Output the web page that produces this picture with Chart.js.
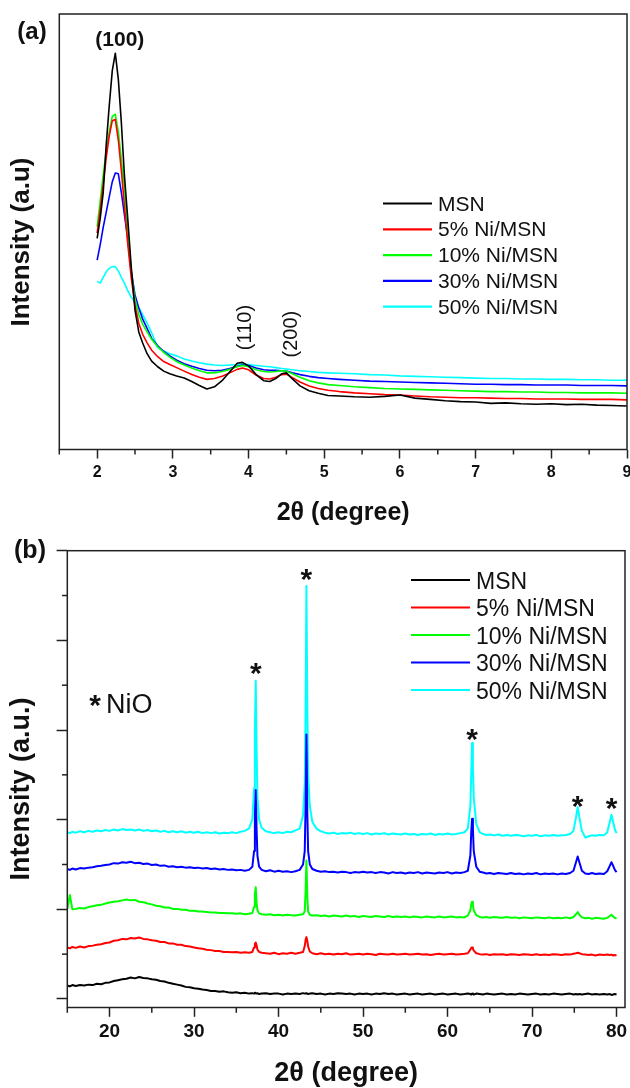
<!DOCTYPE html>
<html>
<head>
<meta charset="utf-8">
<title>XRD patterns of MSN and Ni/MSN</title>
<script src="https://cdn.jsdelivr.net/npm/chart.js@4.4.1/dist/chart.umd.min.js"></script>
<style>
  html, body { margin: 0; padding: 0; background: #ffffff; }
  #wrap { position: relative; width: 630px; height: 1088px; overflow: hidden; }
  canvas { position: absolute; left: 0; }
  #lowChart { top: 0; }
  #wideChart { top: 530px; }
</style>
</head>
<body>
<div id="wrap">
  <canvas id="lowChart" width="630" height="530" style="width:630px;height:530px"></canvas>
  <canvas id="wideChart" width="630" height="558" style="width:630px;height:558px"></canvas>
</div>
<script>
// ---------- samples ----------
const seriesNames = ['MSN', '5% Ni/MSN', '10% Ni/MSN', '30% Ni/MSN', '50% Ni/MSN'];

// ---------- (a) low-angle patterns: 2θ in degrees, intensity in arbitrary units ----------
const lowAngle = [
  2.00, 2.04, 2.08, 2.12, 2.16, 2.20, 2.24, 2.28, 2.32, 2.36,
  2.40, 2.45, 2.50, 2.55, 2.60, 2.66, 2.72, 2.80, 2.88, 2.96,
  3.05, 3.15, 3.25, 3.35, 3.45, 3.55, 3.65, 3.75, 3.85, 3.92,
  4.00, 4.10, 4.20, 4.28, 4.36, 4.44, 4.50, 4.58, 4.68, 4.80,
  4.92, 5.05, 5.20, 5.40, 5.60, 5.80, 6.00, 6.20, 6.40, 6.60,
  6.80, 7.00, 7.20, 7.40, 7.60, 7.80, 8.00, 8.20, 8.40, 8.60,
  8.80, 9.00
];
const msnLow = [
  48.5, 53, 59, 70, 79, 87, 91, 85, 75, 63,
  54, 42, 32, 27, 24.5, 22, 20.3, 19.0, 18.0, 17.4,
  16.9, 16.4, 15.6, 14.7, 13.9, 14.4, 15.8, 17.8, 19.8, 20.0,
  19.2, 17.2, 15.8, 15.6, 16.3, 17.4, 17.6, 16.2, 14.6, 13.5,
  12.9, 12.4, 12.3, 12.1, 12.0, 12.2, 12.5, 11.8, 11.5, 11.2,
  11.0, 10.9, 10.6, 10.7, 10.5, 10.4, 10.5, 10.3, 10.4, 10.2,
  10.1, 10.0
];
const ni5Low = [
  49.7, 55, 61, 67, 72, 75.5, 75.8, 71, 64, 56,
  48, 39.5, 33, 29, 26.5, 24.5, 22.8, 21.3, 20.2, 19.5,
  18.8, 18.0, 17.2, 16.6, 16.1, 16.3, 16.8, 17.6, 18.4, 18.7,
  18.3, 17.1, 16.3, 16.2, 16.6, 17.2, 17.3, 16.5, 15.5, 14.6,
  14.0, 13.6, 13.3, 13.0, 12.8, 12.6, 12.5, 12.3, 12.1, 12.0,
  11.9, 11.9, 11.8, 11.7, 11.7, 11.6, 11.6, 11.6, 11.5, 11.5,
  11.5, 11.4
];
const ni10Low = [
  51.2, 57, 63, 68.5, 73, 76.5, 77.0, 73, 66.5, 60,
  51, 41, 34.5, 31, 28.8, 27, 25.3, 23.6, 22.3, 21.2,
  20.2, 19.4, 18.7, 18.1, 17.6, 17.6, 17.9, 18.4, 19.0, 19.3,
  19.0, 18.3, 17.9, 17.8, 17.9, 18.1, 18.0, 17.4, 16.6, 15.8,
  15.3, 14.9, 14.7, 14.4, 14.2, 14.0, 13.9, 13.8, 13.7, 13.6,
  13.5, 13.4, 13.3, 13.3, 13.2, 13.2, 13.1, 13.1, 13.0, 13.0,
  13.0, 12.9
];
const ni30Low = [
  43.5, 47, 51, 54.5, 58, 61.5, 63.5, 63.3, 59, 54,
  49, 41, 35.5, 32.5, 30, 27.8, 25.5, 23.8, 22.5, 21.5,
  20.5, 19.7, 19.1, 18.6, 18.2, 18.1, 18.2, 18.6, 19.1, 19.4,
  19.3, 18.7, 18.3, 18.2, 18.2, 18.1, 18.0, 17.6, 17.2, 16.8,
  16.5, 16.3, 16.1, 15.9, 15.7, 15.6, 15.5, 15.4, 15.3, 15.2,
  15.1, 15.0, 15.0, 14.9, 14.9, 14.8, 14.8, 14.8, 14.7, 14.7,
  14.7, 14.6
];
const ni50Low = [
  38.6, 38.2, 39.5, 40.8, 41.6, 42.0, 42.0, 41.0, 39.5, 38.2,
  36.6, 35.0, 33.8, 32.6, 31.0, 29.0, 26.8, 23.4, 22.6, 22.0,
  21.5, 20.8, 20.3, 19.9, 19.6, 19.4, 19.3, 19.4, 19.5, 19.6,
  19.5, 19.3, 19.1, 19.0, 18.8, 18.6, 18.5, 18.3, 18.1, 17.9,
  17.7, 17.6, 17.5, 17.4, 17.2, 17.1, 16.9, 16.8, 16.7, 16.6,
  16.5, 16.4, 16.3, 16.3, 16.2, 16.2, 16.1, 16.1, 16.0, 16.0,
  15.9, 15.9
];
const lowTickLabels = ['2', '3', '4', '5', '6', '7', '8', '9'];
// Miller indices of the hexagonal mesophase reflections: [label, 2θ, height]
const lowPeakLabels = [['(100)', 2.30, 94.0], ['(110)', 3.96, 28.0], ['(200)', 4.57, 26.5]];

// ---------- (b) wide-angle patterns (curves offset vertically) ----------
const wideAngle = [
  15, 15.3, 15.6, 16, 16.5, 17, 17.5, 18, 18.5, 19,
  19.5, 20, 20.5, 21, 21.5, 22, 22.5, 23, 23.5, 24,
  24.5, 25, 25.5, 26, 26.5, 27, 27.5, 28, 28.5, 29,
  29.5, 30, 30.5, 31, 31.5, 32, 32.5, 33, 33.5, 34,
  34.5, 35, 35.5, 36, 36.5, 36.9, 37.1, 37.2, 37.3, 37.4,
  37.5, 37.7, 38, 38.5, 39, 39.5, 40, 40.5, 41, 41.5,
  42, 42.5, 42.9, 43.1, 43.2, 43.3, 43.4, 43.5, 43.7, 44,
  44.5, 45, 45.5, 46, 46.5, 47, 47.5, 48, 48.5, 49,
  49.5, 50, 50.5, 51, 51.5, 52, 52.5, 53, 53.5, 54,
  54.5, 55, 55.5, 56, 56.5, 57, 57.5, 58, 58.5, 59,
  59.5, 60, 60.5, 61, 61.5, 62, 62.4, 62.7, 62.8, 62.9,
  63, 63.1, 63.4, 63.8, 64.2, 64.6, 65, 65.5, 66, 66.5,
  67, 67.5, 68, 68.5, 69, 69.5, 70, 70.5, 71, 71.5,
  72, 72.5, 73, 73.5, 74, 74.5, 74.9, 75.2, 75.4, 75.6,
  75.9, 76.3, 76.7, 77.1, 77.5, 78, 78.5, 78.9, 79.2, 79.4,
  79.6, 79.8, 80
];
const msnWide = [
  0.30, 0.28, 0.31, 0.29, 0.31, 0.30, 0.32, 0.31, 0.34, 0.33,
  0.36, 0.37, 0.40, 0.42, 0.44, 0.45, 0.48, 0.46, 0.49, 0.47,
  0.46, 0.44, 0.43, 0.40, 0.39, 0.36, 0.34, 0.32, 0.30, 0.27,
  0.26, 0.24, 0.23, 0.21, 0.20, 0.18, 0.18, 0.16, 0.17, 0.15,
  0.14, 0.15, 0.13, 0.14, 0.12, 0.13, 0.12, 0.14, 0.13, 0.12,
  0.13, 0.11, 0.12, 0.13, 0.11, 0.12, 0.12, 0.10, 0.12, 0.11,
  0.12, 0.11, 0.13, 0.12, 0.12, 0.13, 0.12, 0.11, 0.12, 0.13,
  0.11, 0.12, 0.10, 0.12, 0.11, 0.13, 0.12, 0.11, 0.12, 0.10,
  0.12, 0.11, 0.12, 0.10, 0.12, 0.11, 0.13, 0.11, 0.12, 0.10,
  0.11, 0.12, 0.10, 0.11, 0.12, 0.10, 0.11, 0.12, 0.10, 0.11,
  0.12, 0.10, 0.11, 0.12, 0.10, 0.11, 0.12, 0.11, 0.10, 0.12,
  0.11, 0.10, 0.12, 0.11, 0.10, 0.12, 0.11, 0.10, 0.11, 0.12,
  0.10, 0.11, 0.10, 0.12, 0.11, 0.10, 0.11, 0.12, 0.10, 0.11,
  0.10, 0.12, 0.11, 0.10, 0.11, 0.12, 0.10, 0.11, 0.10, 0.11,
  0.10, 0.11, 0.12, 0.10, 0.11, 0.10, 0.11, 0.10, 0.11, 0.09,
  0.10, 0.11, 0.10
];
const ni5Wide = [
  1.15, 1.13, 1.16, 1.14, 1.17, 1.15, 1.18, 1.19, 1.21, 1.22,
  1.25, 1.26, 1.30, 1.31, 1.34, 1.33, 1.36, 1.35, 1.37, 1.34,
  1.33, 1.31, 1.30, 1.27, 1.27, 1.24, 1.24, 1.21, 1.21, 1.18,
  1.17, 1.15, 1.13, 1.12, 1.10, 1.09, 1.07, 1.07, 1.05, 1.05,
  1.04, 1.05, 1.03, 1.04, 1.03, 1.05, 1.15, 1.23, 1.26, 1.20,
  1.10, 1.05, 1.03, 1.02, 1.01, 1.03, 1.00, 1.02, 1.01, 1.03,
  1.01, 1.03, 1.05, 1.18, 1.32, 1.38, 1.30, 1.17, 1.06, 1.02,
  1.00, 1.02, 1.00, 1.01, 0.99, 1.01, 1.00, 1.02, 0.99, 1.00,
  1.01, 0.99, 1.01, 1.00, 0.98, 1.01, 1.00, 0.99, 1.01, 0.99,
  1.00, 1.01, 0.99, 1.00, 1.01, 0.99, 1.00, 0.98, 1.00, 1.01,
  0.99, 1.00, 1.01, 0.99, 1.00, 1.01, 1.02, 1.10, 1.14, 1.15,
  1.12, 1.08, 1.02, 1.00, 0.99, 1.00, 0.98, 1.00, 0.99, 1.00,
  0.98, 1.00, 0.99, 0.98, 1.00, 0.99, 0.98, 1.00, 0.98, 0.99,
  0.98, 1.00, 0.99, 0.98, 1.00, 0.99, 1.01, 1.02, 1.03, 1.02,
  1.00, 0.99, 0.98, 0.99, 0.97, 0.99, 0.98, 0.99, 0.98, 0.99,
  0.97, 0.98, 0.97
];
const ni10Wide = [
  2.00, 2.32, 2.00, 2.01, 2.03, 2.02, 2.05, 2.07, 2.09, 2.10,
  2.13, 2.15, 2.17, 2.18, 2.20, 2.22, 2.20, 2.21, 2.17, 2.16,
  2.13, 2.11, 2.08, 2.07, 2.04, 2.04, 2.01, 2.01, 1.99, 1.99,
  1.97, 1.97, 1.95, 1.95, 1.94, 1.93, 1.93, 1.92, 1.92, 1.91,
  1.91, 1.90, 1.91, 1.89, 1.90, 1.92, 2.05, 2.35, 2.49, 2.15,
  1.98, 1.91, 1.89, 1.88, 1.89, 1.87, 1.88, 1.86, 1.88, 1.87,
  1.86, 1.88, 1.89, 1.96, 2.40, 3.09, 2.30, 1.95, 1.88, 1.86,
  1.87, 1.85, 1.86, 1.84, 1.86, 1.85, 1.84, 1.86, 1.84, 1.85,
  1.83, 1.85, 1.84, 1.83, 1.85, 1.84, 1.83, 1.85, 1.83, 1.84,
  1.83, 1.84, 1.82, 1.84, 1.83, 1.82, 1.84, 1.83, 1.82, 1.84,
  1.82, 1.83, 1.84, 1.82, 1.83, 1.82, 1.86, 1.98, 2.10, 2.17,
  2.10, 1.98, 1.87, 1.83, 1.82, 1.83, 1.81, 1.83, 1.82, 1.81,
  1.83, 1.81, 1.82, 1.80, 1.82, 1.81, 1.80, 1.82, 1.81, 1.80,
  1.82, 1.80, 1.81, 1.80, 1.82, 1.80, 1.83, 1.89, 1.94, 1.88,
  1.82, 1.80, 1.81, 1.79, 1.81, 1.80, 1.79, 1.81, 1.85, 1.88,
  1.84, 1.81, 1.79
];
const ni30Wide = [
  2.90, 2.88, 2.91, 2.89, 2.92, 2.91, 2.93, 2.94, 2.96, 2.97,
  2.99, 3.00, 3.03, 3.02, 3.05, 3.04, 3.06, 3.03, 3.04, 3.01,
  3.02, 2.99, 3.00, 2.97, 2.98, 2.95, 2.96, 2.94, 2.95, 2.93,
  2.94, 2.92, 2.93, 2.91, 2.92, 2.90, 2.91, 2.89, 2.90, 2.88,
  2.89, 2.87, 2.88, 2.86, 2.88, 2.95, 3.30, 4.10, 4.66, 3.80,
  3.20, 2.95, 2.88, 2.85, 2.87, 2.84, 2.86, 2.84, 2.85, 2.83,
  2.85, 2.88, 3.00, 3.30, 4.30, 5.90, 4.20, 3.30, 3.00, 2.90,
  2.86, 2.84, 2.85, 2.83, 2.84, 2.82, 2.84, 2.83, 2.81, 2.83,
  2.82, 2.84, 2.82, 2.83, 2.81, 2.83, 2.82, 2.80, 2.83, 2.81,
  2.82, 2.80, 2.82, 2.81, 2.83, 2.80, 2.82, 2.81, 2.80, 2.82,
  2.81, 2.83, 2.80, 2.82, 2.81, 2.83, 2.86, 3.20, 3.70, 4.02,
  3.80, 3.30, 2.95, 2.84, 2.82, 2.80, 2.81, 2.79, 2.81, 2.80,
  2.79, 2.81, 2.79, 2.80, 2.78, 2.80, 2.79, 2.81, 2.78, 2.80,
  2.79, 2.80, 2.78, 2.80, 2.79, 2.81, 2.86, 3.05, 3.18, 3.05,
  2.86, 2.80, 2.79, 2.81, 2.79, 2.80, 2.79, 2.85, 2.97, 3.05,
  2.97, 2.88, 2.83
];
const ni50Wide = [
  3.72, 3.70, 3.73, 3.71, 3.74, 3.72, 3.75, 3.73, 3.76, 3.74,
  3.77, 3.75, 3.78, 3.76, 3.79, 3.77, 3.78, 3.76, 3.78, 3.75,
  3.77, 3.74, 3.76, 3.73, 3.75, 3.72, 3.74, 3.72, 3.74, 3.71,
  3.73, 3.71, 3.73, 3.70, 3.72, 3.70, 3.72, 3.69, 3.71, 3.70,
  3.72, 3.70, 3.73, 3.75, 3.80, 4.00, 4.70, 6.00, 7.10, 5.60,
  4.50, 4.00, 3.82, 3.74, 3.72, 3.70, 3.72, 3.70, 3.73, 3.72,
  3.76, 3.80, 4.10, 4.80, 6.40, 9.21, 6.60, 5.00, 4.30, 3.95,
  3.80, 3.74, 3.71, 3.69, 3.71, 3.68, 3.70, 3.69, 3.71, 3.68,
  3.70, 3.68, 3.70, 3.67, 3.69, 3.68, 3.70, 3.67, 3.69, 3.68,
  3.67, 3.69, 3.67, 3.68, 3.66, 3.68, 3.67, 3.69, 3.66, 3.68,
  3.67, 3.69, 3.67, 3.68, 3.70, 3.72, 3.80, 4.30, 5.00, 5.71,
  5.20, 4.50, 3.90, 3.72, 3.68, 3.66, 3.67, 3.65, 3.67, 3.64,
  3.66, 3.64, 3.66, 3.65, 3.63, 3.65, 3.64, 3.66, 3.63, 3.65,
  3.64, 3.66, 3.64, 3.65, 3.66, 3.68, 3.75, 4.05, 4.28, 4.05,
  3.75, 3.60, 3.63, 3.65, 3.64, 3.66, 3.65, 3.72, 3.95, 4.11,
  3.95, 3.78, 3.70
];
const wideTickLabels = ['20', '30', '40', '50', '60', '70', '80'];
// NiO reflections marked with an asterisk: 2θ and marker height
const nioPeaks = [37.3, 43.3, 62.9, 75.4, 79.4];
const nioMarkHeights = [7.37, 9.46, 5.88, 4.39, 4.34];

// ---------- styling ----------
const seriesColors = ['#000000', '#ff0000', '#00ff00', '#0000ff', '#00ffff'];
const FONT = "'Liberation Sans', Arial, Helvetica, sans-serif";
const INK = '#111111';
Chart.defaults.font.family = FONT;
Chart.defaults.color = INK;

// Box around the plotting area plus the short minor tick marks.
const framePlugin = {
  id: 'frame',
  afterDraw(chart, args, opts) {
    const { ctx, chartArea: a } = chart;
    ctx.save();
    ctx.strokeStyle = opts.color;
    ctx.lineWidth = opts.width;
    ctx.strokeRect(a.left, a.top, a.right - a.left, a.bottom - a.top);
    (opts.minor || []).forEach(m => {
      const s = chart.scales[m.axis];
      m.values.forEach(v => {
        const p = s.getPixelForValue(v);
        ctx.beginPath();
        if (s.isHorizontal()) {
          ctx.moveTo(p, a.bottom);
          ctx.lineTo(p, a.bottom + m.length);
        } else {
          ctx.moveTo(a.left, p);
          ctx.lineTo(a.left - m.length, p);
        }
        ctx.stroke();
      });
    });
    ctx.restore();
  }
};

// Free text: panel letters, axis titles and peak markers.
const notesPlugin = {
  id: 'notes',
  afterDraw(chart, args, opts) {
    const ctx = chart.ctx;
    (opts.items || []).forEach(it => {
      const x = it.xValue !== undefined ? chart.scales.x.getPixelForValue(it.xValue) : it.x;
      const y = it.yValue !== undefined ? chart.scales.y.getPixelForValue(it.yValue) : it.y;
      ctx.save();
      ctx.font = it.font;
      ctx.fillStyle = INK;
      ctx.textAlign = it.align || 'center';
      ctx.textBaseline = 'alphabetic';
      ctx.translate(x, y);
      if (it.rotate) ctx.rotate(it.rotate);
      const m = ctx.measureText(it.text);
      const dy = (m.actualBoundingBoxAscent - m.actualBoundingBoxDescent) / 2;
      ctx.fillText(it.text, 0, dy);
      ctx.restore();
    });
  }
};

// Line-sample legend drawn inside the plotting area.
const keyPlugin = {
  id: 'key',
  afterDraw(chart, args, o) {
    const ctx = chart.ctx;
    ctx.save();
    ctx.font = o.font;
    const cap = ctx.measureText('N').actualBoundingBoxAscent;
    chart.data.datasets.forEach((ds, i) => {
      const y = o.top + i * o.step;
      ctx.strokeStyle = ds.borderColor;
      ctx.lineWidth = o.lineWidth;
      ctx.beginPath();
      ctx.moveTo(o.x0, y);
      ctx.lineTo(o.x1, y);
      ctx.stroke();
      ctx.fillStyle = INK;
      ctx.textAlign = 'left';
      ctx.textBaseline = 'alphabetic';
      ctx.fillText(ds.label, o.textX, y + cap / 2);
    });
    ctx.restore();
  }
};

function buildSets(xs, ys, width) {
  return seriesNames.map((name, i) => ({
    label: name,
    data: xs.map((x, k) => ({ x: x, y: ys[i][k] })),
    borderColor: seriesColors[i],
    backgroundColor: seriesColors[i],
    borderWidth: width,
    borderJoinStyle: 'round',
    pointRadius: 0,
    tension: 0,
    fill: false
  }));
}

function halfSteps(from, to, step) {
  const out = [];
  for (let v = from; v <= to + 1e-9; v += step) out.push(Math.round(v * 100) / 100);
  return out;
}

const tickGrid = { drawOnChartArea: false, drawTicks: true, tickWidth: 1.5, tickColor: '#222222' };

// ---------- (a) ----------
new Chart(document.getElementById('lowChart'), {
  type: 'line',
  data: { datasets: buildSets(lowAngle, [msnLow, ni5Low, ni10Low, ni30Low, ni50Low], 1.6) },
  plugins: [framePlugin, notesPlugin, keyPlugin],
  options: {
    responsive: false,
    animation: false,
    devicePixelRatio: 1,
    layout: { padding: { top: 14, right: 3, left: 0, bottom: 0 } },
    plugins: {
      legend: { display: false },
      tooltip: { enabled: false },
      frame: {
        color: '#222222', width: 1.5,
        minor: [{ axis: 'x', values: halfSteps(1.5, 8.5, 1), length: 5 }]
      },
      key: { top: 203.5, step: 25.8, x0: 383, x1: 432, textX: 438, lineWidth: 2.2, font: `21px ${FONT}` },
      notes: {
        items: [
          { text: '(a)', x: 32, y: 32, font: `bold 24px ${FONT}` },
          { text: 'Intensity (a.u)', x: 22, y: 242, rotate: -Math.PI / 2, font: `bold 26px ${FONT}` },
          { text: lowPeakLabels[0][0], xValue: lowPeakLabels[0][1], yValue: lowPeakLabels[0][2], font: `bold 21px ${FONT}` },
          { text: lowPeakLabels[1][0], xValue: lowPeakLabels[1][1], yValue: lowPeakLabels[1][2], rotate: -Math.PI / 2, font: `20px ${FONT}` },
          { text: lowPeakLabels[2][0], xValue: lowPeakLabels[2][1], yValue: lowPeakLabels[2][2], rotate: -Math.PI / 2, font: `20px ${FONT}` }
        ]
      }
    },
    scales: {
      x: {
        type: 'linear', position: 'bottom', min: 1.5, max: 9,
        afterFit: s => { s.height = 80.5; s.paddingLeft = 0; s.paddingRight = 0; },
        border: { display: false },
        grid: Object.assign({ tickLength: 9 }, tickGrid),
        ticks: {
          stepSize: 1, includeBounds: false, padding: 4, autoSkip: false, maxRotation: 0,
          font: { size: 16, weight: 'bold' }, color: INK,
          callback: v => lowTickLabels[Math.round(v) - 2]
        },
        title: {
          display: true, text: '2θ (degree)', color: INK,
          font: { size: 25, weight: 'bold', lineHeight: 1 },
          padding: { top: 0, bottom: 4.5 }
        }
      },
      y: {
        type: 'linear', min: 0, max: 100,
        afterFit: s => { s.width = 59.3; },
        border: { display: false },
        grid: { display: false },
        ticks: { display: false }
      }
    }
  }
});

// ---------- (b) ----------
new Chart(document.getElementById('wideChart'), {
  type: 'line',
  data: { datasets: buildSets(wideAngle, [msnWide, ni5Wide, ni10Wide, ni30Wide, ni50Wide], 2) },
  plugins: [framePlugin, notesPlugin, keyPlugin],
  options: {
    responsive: false,
    animation: false,
    devicePixelRatio: 1,
    layout: { padding: { top: 20.7, right: 5, left: 0, bottom: 0 } },
    plugins: {
      legend: { display: false },
      tooltip: { enabled: false },
      frame: {
        color: '#222222', width: 1.5,
        minor: [
          { axis: 'x', values: halfSteps(15, 75, 10), length: 5.3 },
          { axis: 'y', values: halfSteps(1, 9, 2), length: 5.3 }
        ]
      },
      key: { top: 50, step: 27.5, x0: 411, x1: 470, textX: 476, lineWidth: 2, font: `23px ${FONT}` },
      notes: {
        items: [
          { text: '(b)', x: 30, y: 20.5, font: `bold 25px ${FONT}` },
          { text: 'Intensity (a.u.)', x: 22, y: 259, rotate: -Math.PI / 2, font: `bold 27px ${FONT}` },
          { text: '*', x: 95, y: 171, font: `bold 30px ${FONT}` },
          { text: 'NiO', x: 106, y: 173, align: 'left', font: `27px ${FONT}` }
        ].concat(nioPeaks.map((p, i) => ({
          text: '*', xValue: p, yValue: nioMarkHeights[i], font: `bold 30px ${FONT}`
        })))
      }
    },
    scales: {
      x: {
        type: 'linear', position: 'bottom', min: 15, max: 81,
        afterFit: s => { s.height = 80.5; s.paddingLeft = 0; s.paddingRight = 0; },
        border: { display: false },
        grid: Object.assign({ tickLength: 9.3 }, tickGrid),
        ticks: {
          stepSize: 10, includeBounds: false, padding: 3.5, autoSkip: false, maxRotation: 0,
          font: { size: 19, weight: 'bold' }, color: INK,
          callback: v => wideTickLabels[Math.round(v / 10) - 2]
        },
        title: {
          display: true, text: '2θ (degree)', color: INK,
          font: { size: 27, weight: 'bold', lineHeight: 1 },
          padding: { top: 0, bottom: 0.5 }
        }
      },
      y: {
        type: 'linear', min: -0.19, max: 10,
        afterFit: s => { s.width = 67.3; },
        border: { display: false },
        grid: Object.assign({ tickLength: 10.7 }, tickGrid),
        ticks: { display: false, stepSize: 2, includeBounds: false }
      }
    }
  }
});
</script>
</body>
</html>
